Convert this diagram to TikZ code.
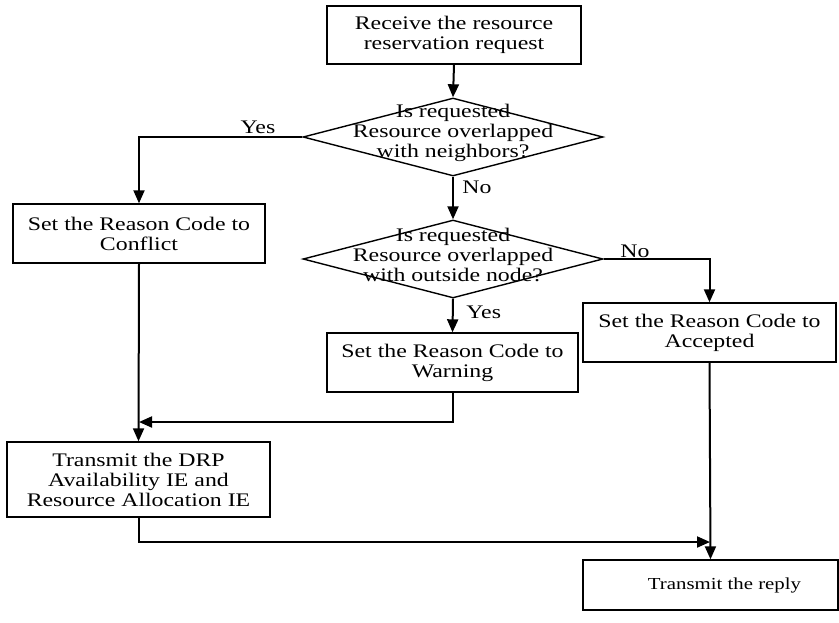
\documentclass[tikz,border=0pt]{standalone}
\usepackage{fontspec}
\setmainfont{Liberation Serif}[FakeStretch=1.24]
\usetikzlibrary{shapes.geometric,arrows.meta}
\begin{document}
\begin{tikzpicture}[x=0.5pt,y=-0.5pt,
  txt/.style={font=\fontsize{9.6pt}{10pt}\selectfont, align=center, inner sep=0pt},
  procbox/.style={draw, line width=0.7pt, minimum width=#1*0.5pt, inner sep=0pt, align=center, font=\fontsize{9.6pt}{10pt}\selectfont},
  decision/.style={draw, diamond, line width=0.7pt, inner sep=0pt},
  flow/.style={line width=1pt, -{Triangle[length=6.5pt,width=5.5pt]}},
  lbl/.style={font=\fontsize{9.6pt}{10pt}\selectfont, inner sep=0pt}
]
\useasboundingbox (0,0) rectangle (839,622);

\node[procbox=254, minimum height=29pt] (top) at (454,35) {Receive the resource\\reservation request};

\node[decision, minimum width=150pt, minimum height=39pt] (d1) at (453,137) {};
\node[txt] (d1t) at (453,133) {Is requested\\Resource overlapped\\with neighbors?};

\node[procbox=252, minimum height=29.5pt] (conflict) at (139,233.5) {Set the Reason Code to\\Conflict};

\node[decision, minimum width=150pt, minimum height=39pt] (d2) at (453,259) {};
\node[txt] (d2t) at (453,255) {Is requested\\Resource overlapped\\with outside node?};

\node[procbox=253, minimum height=29.5pt] (accepted) at (709.5,332.5) {Set the Reason Code to\\Accepted};
\node[procbox=251, minimum height=29.5pt] (warning) at (452.5,362.5) {Set the Reason Code to\\Warning};
\node[procbox=263, minimum height=37.5pt] (drp) at (138.5,479.5) {Transmit the DRP\\Availability IE and\\Resource Allocation IE};
\node[procbox=255, minimum height=25pt, font=\fontsize{8.4pt}{10pt}\selectfont] (reply) at (710.5,585) {\hspace*{14pt}\raisebox{-1.5pt}{Transmit the reply}};

\coordinate (j1) at (139,422);
\coordinate (j2) at (710,542);

\draw[flow] (top.south) -- (d1.north);
\draw[flow] (d1.west) -| (conflict.north);
\draw[flow] (d1.south) -- (d2.north);
\draw[flow] (d2.east) -| (accepted.north);
\draw[flow] (d2.south) -- (warning.north);
\draw[flow] (warning.south) |- (j1);
\draw[flow] (conflict.south) -- (drp.north);
\draw[flow] (drp.south) |- (j2);
\draw[flow] (accepted.south) -- (reply.north);

\node[lbl] (yes1) at (258,127) {Yes};
\node[lbl, anchor=west] (no1) at (462,187) {No};
\node[lbl] (no2) at (635,251) {No};
\node[lbl, anchor=west] (yes2) at (466,312) {Yes};
\end{tikzpicture}
\end{document}
